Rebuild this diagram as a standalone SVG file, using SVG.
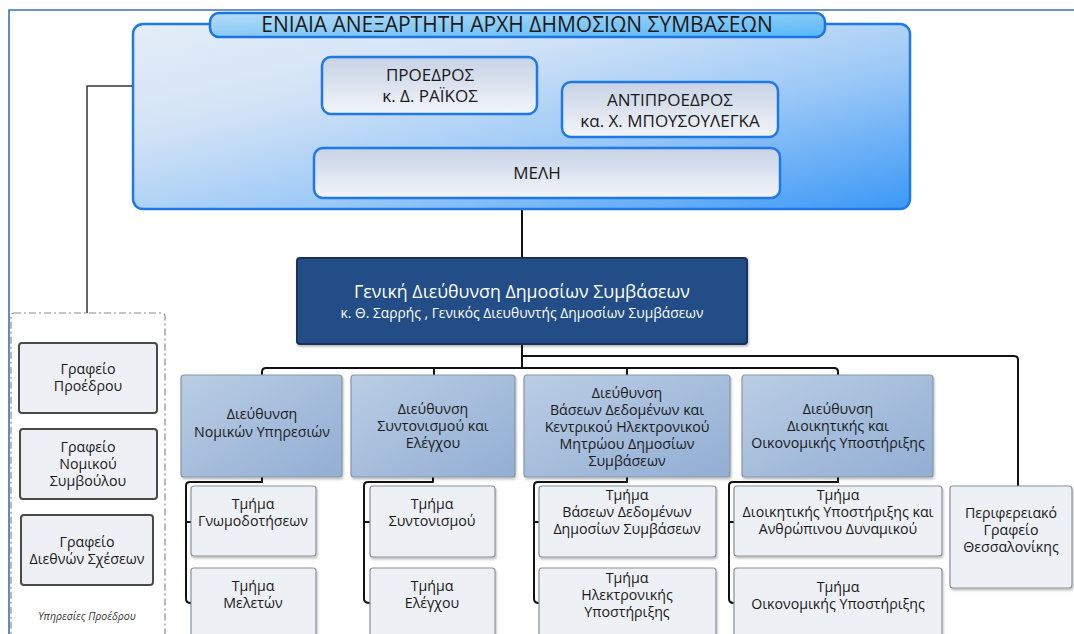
<svg xmlns="http://www.w3.org/2000/svg" width="1074" height="634" viewBox="0 0 1074 634">
<defs>
<linearGradient id="gCont" x1="0" y1="0" x2="1" y2="1">
<stop offset="0" stop-color="#e4edf8"/>
<stop offset="0.3" stop-color="#d3e3f6"/>
<stop offset="0.6" stop-color="#9ecaf7"/>
<stop offset="1" stop-color="#3b98f6"/>
</linearGradient>
<linearGradient id="gTab" x1="0" y1="0" x2="1" y2="1">
<stop offset="0" stop-color="#b7dcf6"/>
<stop offset="1" stop-color="#55b8f7"/>
</linearGradient>
<linearGradient id="gInner" x1="0" y1="0" x2="0" y2="1">
<stop offset="0" stop-color="#c6d2e5"/>
<stop offset="1" stop-color="#f3f5f9"/>
</linearGradient>
<linearGradient id="gDir" x1="0" y1="0" x2="1" y2="1">
<stop offset="0" stop-color="#bacde4"/>
<stop offset="1" stop-color="#92aed4"/>
</linearGradient>
<filter id="sh" x="-5%" y="-5%" width="115%" height="120%">
<feDropShadow dx="1" dy="2" stdDeviation="1.2" flood-color="#000" flood-opacity="0.25"/>
</filter>
</defs>
<style>
text{font-family:"Open Sans","Noto Sans","DejaVu Sans",sans-serif;text-anchor:middle;fill:#1a1a1a}
.inner{fill:url(#gInner);stroke:#1f78e6;stroke-width:2.5}
.dir{fill:url(#gDir);stroke:#8795a8;stroke-width:1.2}
.sub{fill:#edf0f5;stroke:#8a929c;stroke-width:1.2}
.pres{fill:#eef0f5;stroke:#4a4a4a;stroke-width:2}
.conn{fill:none;stroke:#111;stroke-width:2;stroke-linejoin:round}
.t13{font-size:14.2px}
.t15{font-size:17px}
</style>
<rect width="1074" height="634" fill="#fff"/>
<path d="M9,634 V10 H1074" fill="none" stroke="#3d6fb5" stroke-width="1.6"/>

<g id="connectors">
<path class="conn" style="stroke-width:1.5;stroke:#333" d="M322,86 H87 V313"/>
<path class="conn" d="M522,209 V258"/>
<path class="conn" d="M522,344 V368"/>
<path class="conn" d="M522,356 H1014 Q1018,356 1018,360 V486"/>
<path class="conn" d="M262,375 V372 Q262,368 266,368 H834 Q838,368 838,372 V375"/>
<path class="conn" d="M434,368 V375 M627,368 V375"/>
<path class="conn" d="M262,477 V482 H190 Q186,482 186,486 V599 Q186,603 191,603 M186,522 H191"/>
<path class="conn" d="M433,477 V482 H368 Q364,482 364,486 V599 Q364,603 370,603 M364,522 H370"/>
<path class="conn" d="M627,477 V482 H538 Q534,482 534,486 V599 Q534,603 539,603 M534,522 H539"/>
<path class="conn" d="M838,477 V482 H733 Q729,482 729,486 V599 Q729,603 734,603 M729,522 H734"/>
</g>

<g id="authority">
<rect x="133" y="24" width="777" height="185" rx="10" fill="url(#gCont)" stroke="#1f7ae8" stroke-width="2.5"/>
<rect x="210" y="13" width="615" height="24" rx="9" fill="url(#gTab)" stroke="#1c74e0" stroke-width="2.5"/>
<text x="517" y="32" style="font-size:21px">ΕΝΙΑΙΑ ΑΝΕΞΑΡΤΗΤΗ ΑΡΧΗ ΔΗΜΟΣΙΩΝ ΣΥΜΒΑΣΕΩΝ</text>
</g>
<g id="president">
<rect class="inner" x="322" y="57" width="215" height="57" rx="9"/>
<text class="t15" x="430" y="81">ΠΡΟΕΔΡΟΣ</text>
<text class="t15" x="430" y="102">κ. Δ. ΡΑΪΚΟΣ</text>
</g>
<g id="vicepresident">
<rect class="inner" x="562" y="82" width="216" height="55" rx="9"/>
<text class="t15" x="670" y="106">ΑΝΤΙΠΡΟΕΔΡΟΣ</text>
<text class="t15" x="670" y="127">κα. Χ. ΜΠΟΥΣΟΥΛΕΓΚΑ</text>
</g>
<g id="members">
<rect class="inner" x="314" y="148" width="466" height="50" rx="9"/>
<text class="t15" x="537" y="179">ΜΕΛΗ</text>
</g>

<g id="general-directorate">
<rect x="297" y="258" width="450" height="86" rx="3" fill="#204d86" stroke="#15315a" stroke-width="2" filter="url(#sh)"/>
<text x="522" y="298" style="font-size:17.8px;fill:#fff">Γενική Διεύθυνση Δημοσίων Συμβάσεων</text>
<text x="522" y="318" style="font-size:13.8px;fill:#fff">κ. Θ. Σαρρής , Γενικός Διευθυντής Δημοσίων Συμβάσεων</text>
</g>

<g id="president-services">
<rect x="11" y="313" width="154" height="330" rx="3" fill="#fff" stroke="#8a8a8a" stroke-width="1.2" stroke-dasharray="7,3,2,3"/>
<text x="87" y="620" style="font-size:10.5px;font-style:italic;fill:#333">Υπηρεσίες Προέδρου</text>
</g>
<g id="office-president">
<rect class="pres" x="19" y="343" width="138" height="70" rx="3"/>
<text class="t13" x="88" y="374">Γραφείο</text>
<text class="t13" x="88" y="391">Προέδρου</text>
</g>
<g id="office-legal">
<rect class="pres" x="20" y="429" width="137" height="70" rx="3"/>
<text class="t13" x="88" y="452">Γραφείο</text>
<text class="t13" x="88" y="469">Νομικού</text>
<text class="t13" x="88" y="486">Συμβούλου</text>
</g>
<g id="office-international">
<rect class="pres" x="21" y="515" width="132" height="70" rx="3"/>
<text class="t13" x="87" y="547">Γραφείο</text>
<text class="t13" x="87" y="564">Διεθνών Σχέσεων</text>
</g>

<g id="dir-legal">
<rect class="dir" x="181" y="375" width="161" height="102" rx="3" filter="url(#sh)"/>
<text class="t13" x="262" y="419">Διεύθυνση</text>
<text class="t13" x="262" y="437">Νομικών Υπηρεσιών</text>
</g>
<g id="dir-coord">
<rect class="dir" x="351" y="375" width="164" height="102" rx="3" filter="url(#sh)"/>
<text class="t13" x="433" y="414">Διεύθυνση</text>
<text class="t13" x="433" y="431">Συντονισμού και</text>
<text class="t13" x="433" y="448">Ελέγχου</text>
</g>
<g id="dir-db">
<rect class="dir" x="524" y="375" width="206" height="102" rx="3" filter="url(#sh)"/>
<text class="t13" x="627" y="398">Διεύθυνση</text>
<text class="t13" x="627" y="415">Βάσεων Δεδομένων και</text>
<text class="t13" x="627" y="432">Κεντρικού Ηλεκτρονικού</text>
<text class="t13" x="627" y="449">Μητρώου Δημοσίων</text>
<text class="t13" x="627" y="466">Συμβάσεων</text>
</g>
<g id="dir-admin">
<rect class="dir" x="742" y="375" width="191" height="102" rx="3" filter="url(#sh)"/>
<text class="t13" x="838" y="414">Διεύθυνση</text>
<text class="t13" x="838" y="431">Διοικητικής και</text>
<text class="t13" x="838" y="448">Οικονομικής Υποστήριξης</text>
</g>

<g id="sub-opinions">
<rect class="sub" x="191" y="486" width="125" height="70" rx="3" filter="url(#sh)"/>
<text class="t13" x="253" y="509">Τμήμα</text>
<text class="t13" x="253" y="526">Γνωμοδοτήσεων</text>
</g>
<g id="sub-studies">
<rect class="sub" x="191" y="568" width="125" height="80" rx="3" filter="url(#sh)"/>
<text class="t13" x="253" y="591">Τμήμα</text>
<text class="t13" x="253" y="608">Μελετών</text>
</g>
<g id="sub-coord">
<rect class="sub" x="370" y="486" width="125" height="71" rx="3" filter="url(#sh)"/>
<text class="t13" x="432" y="509">Τμήμα</text>
<text class="t13" x="432" y="526">Συντονισμού</text>
</g>
<g id="sub-control">
<rect class="sub" x="370" y="568" width="125" height="80" rx="3" filter="url(#sh)"/>
<text class="t13" x="432" y="591">Τμήμα</text>
<text class="t13" x="432" y="608">Ελέγχου</text>
</g>
<g id="sub-db">
<rect class="sub" x="539" y="486" width="177" height="71" rx="3" filter="url(#sh)"/>
<text class="t13" x="627" y="500">Τμήμα</text>
<text class="t13" x="627" y="517">Βάσεων Δεδομένων</text>
<text class="t13" x="627" y="534">Δημοσίων Συμβάσεων</text>
</g>
<g id="sub-esupport">
<rect class="sub" x="539" y="568" width="177" height="80" rx="3" filter="url(#sh)"/>
<text class="t13" x="627" y="583">Τμήμα</text>
<text class="t13" x="627" y="600">Ηλεκτρονικής</text>
<text class="t13" x="627" y="617">Υποστήριξης</text>
</g>
<g id="sub-hr">
<rect class="sub" x="734" y="486" width="208" height="70" rx="3" filter="url(#sh)"/>
<text class="t13" x="838" y="500">Τμήμα</text>
<text class="t13" x="838" y="517">Διοικητικής Υποστήριξης και</text>
<text class="t13" x="838" y="534">Ανθρώπινου Δυναμικού</text>
</g>
<g id="sub-finance">
<rect class="sub" x="734" y="568" width="208" height="80" rx="3" filter="url(#sh)"/>
<text class="t13" x="838" y="592">Τμήμα</text>
<text class="t13" x="838" y="609">Οικονομικής Υποστήριξης</text>
</g>
<g id="regional-office">
<rect class="sub" x="950" y="486" width="122" height="102" rx="3" filter="url(#sh)"/>
<text class="t13" x="1011" y="518">Περιφερειακό</text>
<text class="t13" x="1011" y="535">Γραφείο</text>
<text class="t13" x="1011" y="552">Θεσσαλονίκης</text>
</g>
</svg>
